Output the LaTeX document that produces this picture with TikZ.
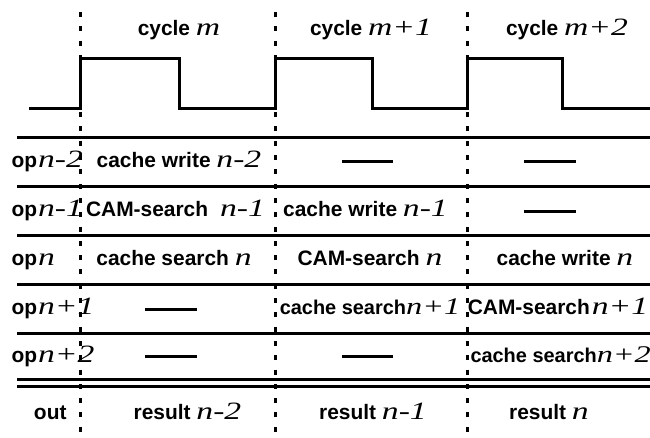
\documentclass[tikz,border=0pt]{standalone}
\usepackage{fontspec}
\setmainfont{Liberation Sans}[BoldFont={Liberation Sans Bold}]
\newfontfamily\itfont{Liberation Serif}[FakeStretch=1.35]
\newcommand\mi[1]{{\itfont\mdseries\itshape\fontsize{25}{25}\selectfont #1}}
\newcommand\mis[1]{{\itfont\mdseries\itshape\fontsize{24}{24}\selectfont #1}}
\begin{document}
\begin{tikzpicture}[x=1bp,y=-1bp,line width=3bp,
  lbl/.style={font=\bfseries\fontsize{21}{21}\selectfont,anchor=base,inner sep=0pt},
  lbls/.style={lbl,font=\bfseries\fontsize{20}{20}\selectfont},
  lblw/.style={lbl,anchor=base west},
  lble/.style={lbl,anchor=base east},
  dotv/.style={dash pattern=on 5bp off 9.3bp,line width=3bp},
  hline/.style={line width=3bp},
  blank/.style={line width=3bp}]
\useasboundingbox (0,0) rectangle (650,438);
% clock waveform
\draw[line join=miter] (29,109) -- (80,109) -- (80,59) -- (179,59) -- (179,109) -- (275,109) -- (275,59) -- (372,59) -- (372,109) -- (467,109) -- (467,59) -- (562,59) -- (562,109) -- (650,109);
% horizontal rules
\foreach \yy in {138,187,236,285,333,379,386} \draw[hline] (17,\yy) -- (650,\yy);
% dotted cycle boundaries
\foreach \xx in {80,275,467} \draw[dotv] (\xx,12) -- (\xx,438);
% cycle labels
\node[lbl] (c1) at (179,36) {cycle \mi{m}};
\node[lbl] (c2) at (371,36) {cycle \mi{m+1}};
\node[lbl] (c3) at (567,36) {cycle \mi{m+2}};
% row labels
\node[lblw] (o1) at (10,168) {op\kern1bp\mi{n-2}};
\node[lblw] (o2) at (10,217) {op\kern1bp\mi{n-1}};
\node[lblw] (o3) at (10,266) {op\kern1bp\mi{n}};
\node[lblw] (o4) at (10,315) {op\kern1bp\mi{n+1}};
\node[lblw] (o5) at (10,362) {op\kern1bp\mi{n+2}};
\node[lble] (out) at (68,419) {out};
% row 1
\node[lbl] (r11) at (179,168) {cache write \mi{n-2}};
\draw[blank] (342,162) -- (393,162);
\draw[blank] (524,162) -- (576,162);
% row 2
\node[lbl] (r21) at (175.5,217) {CAM-search\hspace{12bp}\mi{n-1}};
\node[lbl] (r22) at (365.5,217) {cache write \mi{n-1}};
\draw[blank] (524,212) -- (576,212);
% row 3
\node[lbl] (r31) at (174,266) {cache search \mi{n}};
\node[lbl] (r32) at (370,266) {CAM-search\hspace{6bp}\mi{n}};
\node[lbl] (r33) at (565,266) {cache write \mi{n}};
% row 4
\draw[blank] (145,309) -- (197,309);
\node[lbls] (r42) at (370,315) {cache search\mis{n+1}};
\node[lbl] (r43) at (558,315) {CAM-search\kern2bp\mi{n+1}};
% row 5
\draw[blank] (145,356) -- (197,356);
\draw[blank] (342,356) -- (393,356);
\node[lbls,anchor=base west] (r53) at (469,362) {cache search\mis{n+2}};
% results
\node[lbl] (res1) at (187.5,419) {result \mi{n-2}};
\node[lbl] (res2) at (373,419) {result \mi{n-1}};
\node[lbl] (res3) at (549,419) {result \mi{n}};
\end{tikzpicture}
\end{document}
